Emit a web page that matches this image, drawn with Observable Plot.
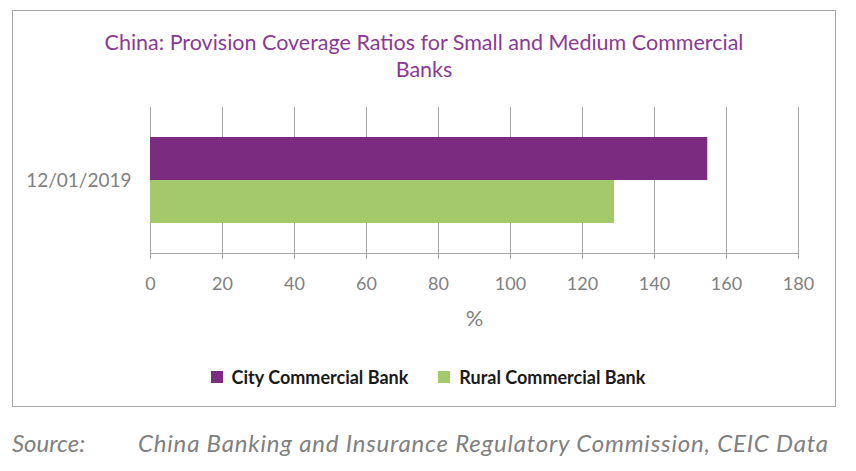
<!DOCTYPE html>
<html>
<head>
<meta charset="utf-8">
<script src="https://cdn.jsdelivr.net/npm/d3@7"></script>
<script src="https://cdn.jsdelivr.net/npm/@observablehq/plot@0.6"></script>
<style>
  html, body { margin: 0; padding: 0; background: #fff; }
  #root { position: relative; width: 856px; height: 471px; overflow: hidden; font-family: Lato, "Open Sans", sans-serif; }
  #box { position: absolute; left: 12px; top: 10px; width: 822px; height: 395px; border: 1px solid #a6a6a6; }
  #title { position: absolute; left: 12px; width: 824px; top: 29px; text-align: center; color: #8a3a96; font-size: 21.5px; line-height: 27px; }
  #chart { position: absolute; left: 0; top: 0; }
  #legend { position: absolute; left: 0; width: 856px; top: 360px; display: flex; justify-content: center; }
  #legend > div { margin: 0 !important; }
  .lg-swatch { margin-right: 30px !important; }
  .lg-swatch:last-child { margin-right: 0 !important; }
  .lg-swatch svg { margin-right: 9px !important; }
  #chart g[aria-label="x-axis label"] text { font-size: 22px; }
  #source { position: absolute; left: 12px; top: 428px; font-style: italic; color: #808080; font-size: 24px; line-height: 30px; white-space: pre; }
</style>
</head>
<body>
<div id="root">
  <div id="box"></div>
  <div id="title">China: Provision Coverage Ratios for Small and Medium Commercial<br>Banks</div>
  <div id="chart"></div>
  <div id="legend"></div>
  <div id="source"><span>Source:</span><span style="position:absolute;left:126px;letter-spacing:0.8px;">China Banking and Insurance Regulatory Commission, CEIC Data</span></div>
</div>
<script>
const dates = ["12/01/2019"];
const series = ["City Commercial Bank", "Rural Commercial Bank"];
const values = [154.8, 128.9];
const colors = ["#7b2c80", "#a3c96b"];
const xTicks = [0, 20, 40, 60, 80, 100, 120, 140, 160, 180];

const data = series.map((s, i) => ({date: dates[0], series: s, value: values[i]}));
const gray = "#a6a6a6";
const font = "Lato, 'Open Sans', sans-serif";

const chart = Plot.plot({
  width: 856,
  height: 333,
  marginLeft: 150,
  marginRight: 58,
  marginTop: 107,
  marginBottom: 80,
  style: {fontFamily: font, background: "transparent", overflow: "visible"},
  x: {domain: [0, 180]},
  y: {domain: series, paddingInner: 0, paddingOuter: 0.678, axis: null},
  fy: {domain: dates, padding: 0},
  color: {domain: series, range: colors},
  marks: [
    Plot.gridX(xTicks, {stroke: gray, strokeOpacity: 1}),
    Plot.barX(data, {x: "value", y: "series", fy: "date", fill: "series"}),
    Plot.frame({anchor: "bottom", stroke: gray, strokeOpacity: 1}),
    Plot.axisX({ticks: xTicks, tickSize: 6, tickPadding: 18, stroke: gray, fill: "#808080", fontSize: 18,
      label: "%", labelAnchor: "center", labelArrow: "none", labelOffset: 72}),
    Plot.axisFy({anchor: "left", tickSize: 0, tickPadding: 19, fill: "#808080", fontSize: 19, label: null})
  ]
});
document.getElementById("chart").appendChild(chart);

const legend = Plot.legend({
  color: {domain: series, range: colors},
  className: "lg",
  swatchSize: 12,
  style: {fontFamily: font, fontSize: "18px", color: "#1a1a1a", fontWeight: 700}
});
document.getElementById("legend").appendChild(legend);
</script>
</body>
</html>
